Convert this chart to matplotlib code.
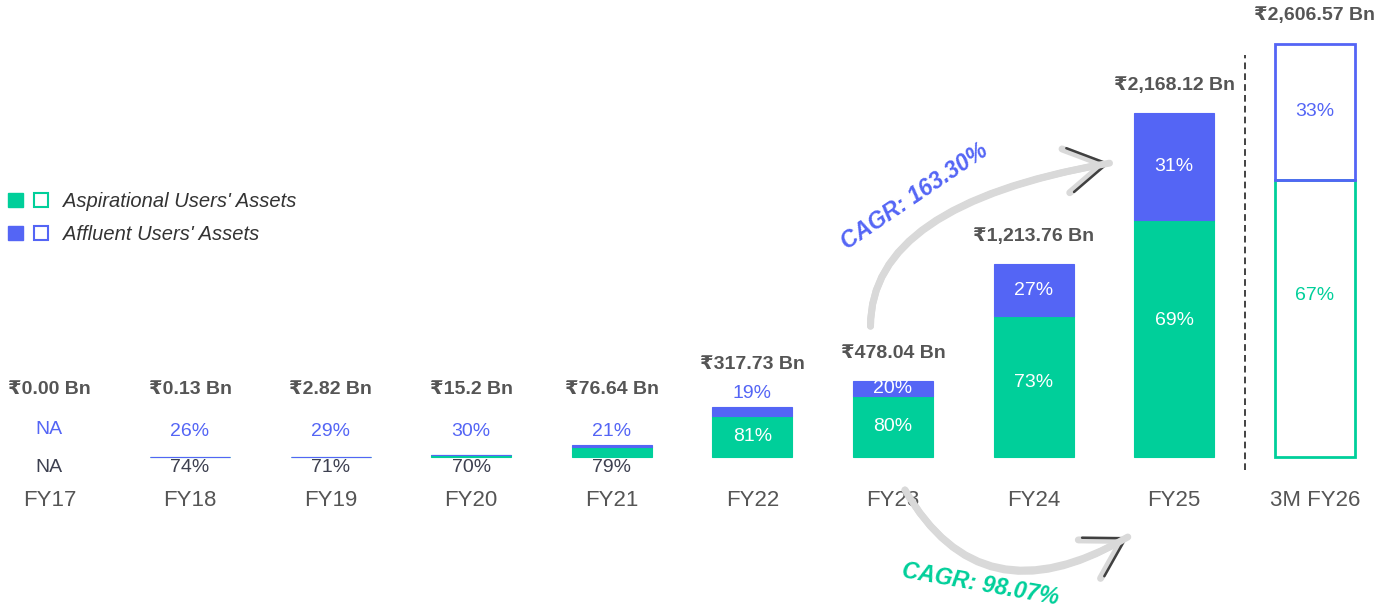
import numpy as np
import matplotlib
matplotlib.use("Agg")
import matplotlib.pyplot as plt
from matplotlib.patches import Patch
from matplotlib.legend_handler import HandlerTuple

plt.rcParams["font.family"] = ["Liberation Sans", "DejaVu Sans"]

# --- data ---------------------------------------------------------------
years = ["FY17", "FY18", "FY19", "FY20", "FY21", "FY22", "FY23", "FY24", "FY25", "3M FY26"]
total_bn = [0.00, 0.13, 2.82, 15.2, 76.64, 317.73, 478.04, 1213.76, 2168.12, 2606.57]
total_labels = ["₹0.00 Bn", "₹0.13 Bn", "₹2.82 Bn", "₹15.2 Bn", "₹76.64 Bn", "₹317.73 Bn",
                "₹478.04 Bn", "₹1,213.76 Bn", "₹2,168.12 Bn", "₹2,606.57 Bn"]
aspirational_pct = [np.nan, 74, 71, 70, 79, 81, 80, 73, 69, 67]
affluent_pct = [np.nan, 26, 29, 30, 21, 19, 20, 27, 31, 33]
series_names = ["Aspirational Users' Assets", "Affluent Users' Assets"]
cagr_affluent = "CAGR: 163.30%"
cagr_aspirational = "CAGR: 98.07%"

GREEN = "#00cf9a"
BLUE = "#5465f5"
GREY = "#555555"
DARK = "#3d4050"
ARC = "#d9d9d9"

PX = 1 / 0.1586  # Bn per pixel

fig = plt.figure(figsize=(13.86, 6.14), dpi=100)
ax = fig.add_axes([0, 0, 1, 1])
ax.set_xlim(-49.4 / 140.6, (1386 - 49.4) / 140.6)
ax.set_ylim(-157 * PX, 457 * PX)
ax.axis("off")

x = np.arange(len(years))
total = np.array(total_bn)
asp = total * np.array(aspirational_pct) / 100
aff = total * np.array(affluent_pct) / 100
w = 0.57
solid = x < len(x) - 1

ax.bar(x[solid], asp[solid], w, color=GREEN, edgecolor=GREEN, lw=0.8)
ax.bar(x[solid], aff[solid], w, bottom=asp[solid], color=BLUE, edgecolor=BLUE, lw=0.8)
# latest quarter drawn as outline only
ax.bar(x[~solid], asp[~solid], w, facecolor="none", edgecolor=GREEN, lw=2)
ax.bar(x[~solid], aff[~solid], w, bottom=asp[~solid], facecolor="none", edgecolor=BLUE, lw=2)

# --- labels ---------------------------------------------------------------
thresh = 13 * PX
for i in x:
    top = total[i]
    pct_kw = dict(ha="center", va="center", fontsize=14)
    if np.isnan(asp[i]):
        ax.text(i, 27 * PX, "NA", color=BLUE, **pct_kw)
        ax.text(i, -10 * PX, "NA", color=DARK, **pct_kw)
        lab_y = 67 * PX
    else:
        hollow = not solid[i]
        a_txt = f"{aspirational_pct[i]:.0f}%"
        b_txt = f"{affluent_pct[i]:.0f}%"
        outside = False
        if asp[i] > thresh:
            # tall segments: label sits a little above the middle
            lift = max(0, asp[i] - 110 * PX) * 0.14
            ax.text(i, asp[i] / 2 + lift, a_txt,
                    color=GREEN if hollow else "white", **pct_kw)
        else:
            ax.text(i, -11 * PX, a_txt, color=DARK, **pct_kw)
        if aff[i] > thresh:
            ax.text(i, asp[i] + aff[i] / 2, b_txt, color=BLUE if hollow else "white", **pct_kw)
        else:
            ax.text(i, max(top + 13 * PX, 26 * PX), b_txt, color=BLUE, **pct_kw)
            outside = True
        lab_y = max(top + (42 if outside else 28) * PX, 67 * PX)
    ax.text(i, lab_y, total_labels[i], ha="center", va="center",
            fontsize=14, fontweight="bold", color=GREY)
    ax.text(i, -43 * PX, years[i], ha="center", va="center", fontsize=16, color=GREY)

# separator before the partial year
ax.vlines(x[-1] - 0.5, -13 * PX, 402 * PX, color="#222222", lw=1.2, linestyles=(0, (4, 2.5)))

# --- CAGR arrows ----------------------------------------------------------
head = "->,head_length=1.35,head_width=0.8"


def curved_arrow(start, end, conn):
    for style, color, lw, z in [(head, ARC, 5, 1), (head, "#404040", 1.8, 2), ("-", ARC, 5, 3)]:
        ax.annotate("", xy=end, xytext=start, zorder=z,
                    arrowprops=dict(arrowstyle=style, color=color, lw=lw, mutation_scale=20,
                                    shrinkA=0, shrinkB=0, connectionstyle=conn,
                                    capstyle="round"))


curved_arrow((x[6] - 0.16, total[6] + 55 * PX), (x[8] - 0.46, total[8] - 50 * PX),
             "angle3,angleA=90,angleB=10")
curved_arrow((x[6] + 0.085, -33 * PX), (x[8] - 0.33, -80 * PX),
             "angle3,angleA=-60,angleB=30")

ax.text(6.15, 260 * PX, cagr_affluent, rotation=34, ha="center", va="center",
        fontsize=16.5, fontweight="bold", style="italic", color=BLUE)
ax.text(6.62, -127 * PX, cagr_aspirational, rotation=-10, ha="center", va="center",
        fontsize=16.5, fontweight="bold", style="italic", color=GREEN)

# --- legend ---------------------------------------------------------------
handles = [(Patch(fc=GREEN, ec=GREEN), Patch(fc="none", ec=GREEN, lw=1.5)),
           (Patch(fc=BLUE, ec=BLUE), Patch(fc="none", ec=BLUE, lw=1.5))]
leg = ax.legend(handles, series_names,
                handler_map={tuple: HandlerTuple(ndivide=None, pad=0.55)},
                loc="upper left", bbox_to_anchor=(8 / 1386, 1 - 192 / 614),
                bbox_transform=fig.transFigure, frameon=False,
                prop=dict(style="italic", size=14.5), handlelength=2.0, handleheight=0.7,
                handletextpad=0.75, labelspacing=0.68, borderaxespad=0, borderpad=0)
for t in leg.get_texts():
    t.set_color("#333333")

fig.savefig("out.png", dpi=100)
